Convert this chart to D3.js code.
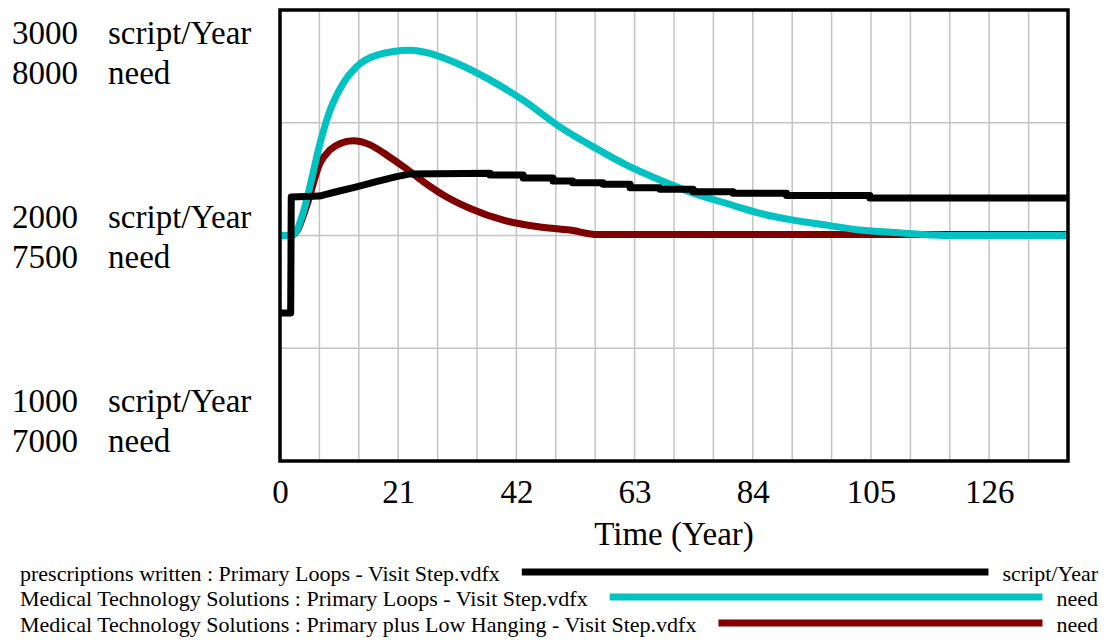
<!DOCTYPE html>
<meta charset="utf-8">
<style>
    body { margin: 0; background: #fff; }
    text { font-family: "Liberation Serif", "Times New Roman", serif; fill: #000; }
    .grid line { stroke: #c4c4c4; stroke-width: 1.5px; }
    .series { fill: none; stroke-width: 7px; stroke-linejoin: round; }
</style>
<svg width="1106" height="640"></svg>
<script src="https://d3js.org/d3.v7.min.js"></script>
<script>
    // time axis (Year)
    var xTicks = [0, 21, 42, 63, 84, 105, 126];
    // left labels, top to bottom
    var scriptTicks = [3000, 2000, 1000];
    var needTicks = [8000, 7500, 7000];

    // prescriptions written : Primary Loops (script/Year)
    var prescTime  = [0, 1.9, 2, 7, 10, 13.6, 17.1, 20.7, 23.1, 37.3, 37.3, 43.2, 43.2, 48.5, 48.5, 52, 52, 57.4, 57.4, 62.2, 62.2, 67.5, 67.5, 73.4, 73.4, 80.5, 80.5, 90, 90, 104.8, 104.8, 140];
    var prescValue = [1656, 1656, 2171, 2175, 2194, 2216, 2239, 2261, 2273, 2276, 2268, 2268, 2255, 2255, 2242, 2242, 2234, 2234, 2227, 2227, 2212, 2212, 2205, 2205, 2194, 2194, 2187, 2187, 2177, 2177, 2166, 2166];

    // Medical Technology Solutions : Primary Loops (need)
    var mtsLoopsTime  = [0, 2, 2.7, 4.1, 5.3, 7.1, 8.9, 11.2, 13.6, 17.2, 23.1, 26.6, 31.4, 37.3, 43.2, 49.7, 55.6, 61.6, 67.5, 73.4, 79.4, 85.3, 91.2, 97.1, 103, 110, 118, 140];
    var mtsLoopsValue = [7500, 7500, 7505, 7550, 7608, 7704, 7778, 7837, 7874, 7900, 7911, 7904, 7882, 7845, 7800, 7741, 7697, 7656, 7623, 7594, 7571, 7549, 7534, 7523, 7512, 7506, 7500, 7500];

    // Medical Technology Solutions : Primary plus Low Hanging (need)
    var mtsLowTime  = [0, 2, 3, 4.7, 7.1, 8.9, 10.7, 13, 16, 19, 21.9, 25.5, 29, 33.8, 39.7, 45.6, 51.5, 56.5, 140];
    var mtsLowValue = [7500, 7500, 7510, 7564, 7660, 7690, 7704, 7710, 7701, 7678, 7653, 7619, 7590, 7560, 7534, 7520, 7512, 7502, 7502];

    var legendNames = [
        "prescriptions written : Primary Loops - Visit Step.vdfx",
        "Medical Technology Solutions : Primary Loops - Visit Step.vdfx",
        "Medical Technology Solutions : Primary plus Low Hanging - Visit Step.vdfx"
    ];
    var legendUnits = ["script/Year", "need", "need"];
    var legendColours = ["#000000", "#00c2c2", "#800000"];

    draw();

    function draw() {
        var svg = d3.select("svg");
        var plotLeft = 280, plotRight = 1068, plotTop = 10, plotBottom = 461;

        var x = d3.scaleLinear().domain([0, 140]).range([plotLeft, plotRight]);
        var yScript = d3.scaleLinear().domain([1000, 3000]).range([plotBottom, plotTop]);
        var yNeed = d3.scaleLinear().domain([7000, 8000]).range([plotBottom, plotTop]);

        // grid
        var grid = svg.append("g").attr("class", "grid");
        grid.selectAll(".v").data(d3.range(7, 140, 7)).enter().append("line")
            .attr("x1", function (d) { return x(d); }).attr("x2", function (d) { return x(d); })
            .attr("y1", plotTop).attr("y2", plotBottom);
        grid.selectAll(".h").data([1500, 2000, 2500]).enter().append("line")
            .attr("x1", plotLeft).attr("x2", plotRight)
            .attr("y1", function (d) { return yScript(d); }).attr("y2", function (d) { return yScript(d); });

        function zip(ts, vs) {
            return ts.map(function (t, i) { return [t, vs[i]]; });
        }

        var lineScript = d3.line().x(function (d) { return x(d[0]); }).y(function (d) { return yScript(d[1]); });
        var lineNeed = d3.line().curve(d3.curveMonotoneX)
            .x(function (d) { return x(d[0]); }).y(function (d) { return yNeed(d[1]); });

        // red first, then cyan, black on top
        svg.append("path").attr("class", "series").attr("stroke", legendColours[2])
            .attr("d", lineNeed(zip(mtsLowTime, mtsLowValue)));
        svg.append("path").attr("class", "series").attr("stroke", legendColours[1])
            .attr("d", lineNeed(zip(mtsLoopsTime, mtsLoopsValue)));
        svg.append("path").attr("class", "series").attr("stroke", legendColours[0])
            .attr("d", lineScript(zip(prescTime, prescValue)));

        // frame
        svg.append("rect").attr("x", plotLeft).attr("y", plotTop)
            .attr("width", plotRight - plotLeft).attr("height", plotBottom - plotTop)
            .attr("fill", "none").attr("stroke", "#000").attr("stroke-width", 3.5);

        // x axis labels
        var xAxis = svg.append("g").attr("transform", "translate(0," + plotBottom + ")")
            .call(d3.axisBottom(x).tickValues(xTicks).tickSize(0).tickFormat(d3.format("d")));
        xAxis.select(".domain").remove();
        xAxis.selectAll("text").attr("y", 42).attr("dy", null).attr("fill", "#000")
            .style("font-size", "33px").style("font-family", "Liberation Serif");

        svg.append("text").attr("x", (plotLeft + plotRight) / 2).attr("y", 545)
            .attr("text-anchor", "middle").style("font-size", "33px").text("Time (Year)");

        // left labels: pairs of script/Year and need
        var pairBase = [44, 228, 412];
        scriptTicks.forEach(function (v, i) {
            svg.append("text").attr("x", 12).attr("y", pairBase[i]).style("font-size", "33px").text(v);
            svg.append("text").attr("x", 108).attr("y", pairBase[i]).style("font-size", "33px").text("script/Year");
            svg.append("text").attr("x", 12).attr("y", pairBase[i] + 40).style("font-size", "33px").text(needTicks[i]);
            svg.append("text").attr("x", 108).attr("y", pairBase[i] + 40).style("font-size", "33px").text("need");
        });

        // legend
        var legendBase = [581, 606, 632];
        legendNames.forEach(function (name, i) {
            var t = svg.append("text").attr("x", 20).attr("y", legendBase[i]).style("font-size", "22px").text(name);
            var u = svg.append("text").attr("x", 1098).attr("y", legendBase[i]).attr("text-anchor", "end")
                .style("font-size", "22px").text(legendUnits[i]);
            var x1 = 20 + t.node().getComputedTextLength() + 22;
            var x2 = 1098 - u.node().getComputedTextLength() - 14;
            svg.append("line").attr("x1", x1).attr("x2", x2)
                .attr("y1", legendBase[i] - 9).attr("y2", legendBase[i] - 9)
                .attr("stroke", legendColours[i]).attr("stroke-width", 7);
        });
    }
</script>
